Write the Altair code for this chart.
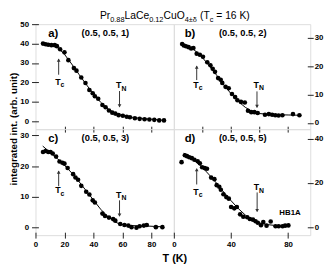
import altair as alt
import pandas as pd

FONT = "Liberation Sans"

# ---------------- data ----------------
T_a = [5.2, 7.0, 8.8, 11.0, 13.3, 14.8, 17.0, 20.0, 22.7, 26.5, 28.3, 31.6, 34.5, 37.2, 39.5, 41.0, 43.3,
       46.2, 48.4, 50.7, 53.0, 55.1, 57.4, 60.3, 63.0, 65.2, 68.6, 71.9, 75.3, 78.6, 82.0, 85.4, 88.7]
I_a = [40.0, 39.7, 39.4, 39.2, 39.2, 38.7, 37.1, 35.5, 31.5, 27.4, 26.1, 22.6, 19.7, 16.1, 14.5, 12.9, 11.6,
       8.4, 7.3, 5.6, 4.5, 4.0, 3.2, 2.9, 2.4, 2.1, 1.6, 1.3, 1.1, 1.0, 0.8, 0.5, 0.5]
Tfit_a = [12, 16, 20, 25, 30, 35, 40, 45, 50, 55, 60, 65, 70, 80, 90]
Ifit_a = [39.5, 37.5, 34.5, 29.5, 24.2, 19.0, 14.2, 9.8, 6.4, 4.3, 3.0, 2.3, 1.8, 1.1, 0.5]

T_b = [5.8, 7.0, 8.5, 10.3, 12.1, 13.7, 16.0, 18.2, 20.4, 23.4, 25.6, 27.2, 28.8, 31.0, 32.8, 33.9, 36.2,
       38.4, 40.7, 42.9, 44.5, 47.0, 49.7, 51.9, 54.2, 56.4, 58.7, 63.8, 66.5, 68.8, 71.0, 73.3, 76.0, 83.4, 87.9]
I_b = [27.8, 27.3, 27.0, 26.7, 26.2, 26.4, 24.4, 24.0, 23.3, 21.4, 20.3, 19.1, 18.0, 15.8, 15.2, 14.1, 12.7,
       12.2, 10.2, 9.1, 8.0, 7.4, 7.2, 4.3, 3.8, 3.8, 3.5, 2.9, 3.1, 2.9, 2.7, 2.6, 2.7, 3.1, 2.7]
Tfit_b = [12, 16, 20, 25, 30, 35, 40, 45, 50, 55, 60, 70, 80, 88]
Ifit_b = [26.5, 25.0, 23.0, 20.0, 16.8, 13.4, 10.3, 7.6, 5.5, 4.0, 3.3, 2.9, 2.8, 2.7]

T_c = [5.2, 7.0, 8.8, 10.4, 11.9, 14.2, 16.6, 18.6, 20.0, 22.2, 26.0, 27.6, 29.4, 31.6, 35.0, 37.2, 39.5,
       41.0, 46.2, 48.0, 50.7, 53.6, 55.1, 58.5, 61.4, 64.1, 66.3, 69.7, 71.9, 74.8, 76.8, 83.1, 87.6]
I_c = [24.6, 24.9, 24.6, 24.6, 24.1, 23.1, 21.5, 21.1, 20.8, 19.4, 17.4, 16.3, 15.6, 13.6, 11.7, 10.8, 8.9,
       8.2, 4.6, 3.8, 3.3, 2.8, 2.3, 1.2, 0.9, 0.7, 0.2, 0.0, 0.5, 0.7, 0.9, 0.2, 0.2]
Tfit_c = [5, 10, 15, 20, 25, 30, 35, 40, 45, 50, 55, 58, 65, 75, 88]
Ifit_c = [26.5, 24.5, 22.5, 20.3, 17.8, 15.0, 12.0, 9.0, 6.0, 3.6, 1.9, 1.2, 0.7, 0.6, 0.3]

T_d = [5.4, 7.7, 9.2, 10.8, 12.6, 14.4, 16.7, 18.2, 19.8, 21.6, 23.2, 26.1, 28.4, 30.0, 31.8, 32.9, 34.7,
       36.7, 38.5, 40.1, 42.3, 44.1, 46.4, 48.6, 51.4, 53.2, 55.4, 57.2, 58.8, 61.0, 62.6, 64.9, 67.8, 71.2,
       73.4, 76.1, 77.9, 80.2]
I_d = [29.4, 32.5, 32.1, 31.6, 31.2, 30.5, 29.8, 28.9, 27.1, 26.7, 26.4, 22.4, 21.7, 19.0, 18.3, 16.9, 14.9,
       13.6, 12.9, 9.1, 8.5, 9.1, 5.8, 4.7, 4.5, 3.7, 3.4, 2.7, 2.0, 0.9, 2.3, 0.7, 2.6, 0.4, 0.4, 0.4, 0.7, 0.8]
Tfit_d = [7, 10, 15, 20, 25, 30, 35, 40, 45, 50, 55, 58, 65, 72, 80]
Ifit_d = [33.5, 32.2, 29.8, 27.0, 23.5, 19.8, 15.8, 12.0, 8.5, 5.5, 3.3, 2.2, 1.2, 0.7, 0.5]

# annotation anchors (T, tail, head, label baseline) in data units
Tc_a = [16, 24.0, 32.0, 18.7]; TN_a = [58, 15.6, 7.5, 17.0]
Tc_b = [16, 15.1, 20.0, 12.3]; TN_b = [58.2, 11.1, 5.5, 12.4]
Tc_c = [16, 13.5, 18.4, 11.2]; TN_c = [58, 8.9, 3.8, 9.7]
Tc_d = [16, 19.3, 26.4, 14.7]; TN_d = [58.3, 15.7, 7.1, 16.6]

X_DOMAIN = [0, 95.5]
Y_DOM = {"a": [-4, 50], "b": [-2.2, 34.8], "c": [-2.4, 32], "d": [-3.6, 44.3]}
Y_TICKS = {"a": [0, 10, 20, 30, 40, 50], "b": [0, 10, 20, 30], "c": [0, 10, 20, 30], "d": [0, 10, 20, 30, 40]}
HKL = {"a": "(0.5, 0.5, 1)", "b": "(0.5, 0.5, 2)", "c": "(0.5, 0.5, 3)", "d": "(0.5, 0.5, 5)"}
X_TICKS = [20, 40, 60, 80]
X_LABELS = [0, 20, 40, 60, 80]

W_L, W_R = 141, 139
H_T, H_B = 107, 108

# Liberation Sans (Arial metrics) advance widths per 1000 em, for title layout
WID = {"P": 667, "r": 333, "L": 556, "a": 556, "C": 722, "e": 556, "u": 556, "O": 778, "(": 333,
       "T": 611, " ": 278, "=": 584, "1": 556, "6": 556, "K": 667, ")": 333, "0": 556, ".": 278,
       "8": 556, "2": 556, "4": 556, "±": 584, "δ": 556, "c": 500}


def one():
    return pd.DataFrame({"k": [0]})


def text_at(txt, x, y, size, weight="normal", align="left", angle=None, baseline="alphabetic"):
    kw = dict(align=align, baseline=baseline, fontSize=size, font=FONT, fontWeight=weight, color="black")
    if angle is not None:
        kw["angle"] = angle
    return alt.Chart(one()).mark_text(**kw).encode(x=alt.value(x), y=alt.value(y), text=alt.value(txt))


def panel(key, T, I, Tf, If, Tc, TN, width, height, yorient, xlabels, extra=None):
    if yorient == "left":
        yaxis = alt.Axis(orient="left", values=Y_TICKS[key], domain=False, grid=False, tickSize=7, offset=-3,
                         labelPadding=3, labelFont=FONT, labelFontSize=8, labelFontWeight="bold",
                         labelColor="black", tickColor="#222", labelOverlap=False, title=None)
    else:
        yaxis = alt.Axis(orient="right", values=Y_TICKS[key], domain=False, grid=False, tickSize=6, offset=-3,
                         labelPadding=1, labelFont=FONT, labelFontSize=8, labelFontWeight="bold",
                         labelColor="black", tickColor="#222", labelOverlap=False, title=None)
    if xlabels:
        xaxis = alt.Axis(orient="bottom", values=X_LABELS, domain=False, grid=False, tickSize=6, offset=-3,
                         labelPadding=3, labelFont=FONT, labelFontSize=8, labelFontWeight="bold",
                         labelColor="black", tickColor="#222", labelFlush=False, labelOverlap=False, title=None)
    else:
        xaxis = alt.Axis(orient="bottom", values=X_TICKS, domain=False, grid=False, tickSize=6, offset=-3,
                         labels=False, tickColor="#222", title=None)
    xs = alt.Scale(domain=X_DOMAIN, nice=False, zero=False)
    ys = alt.Scale(domain=Y_DOM[key], nice=False, zero=False)
    X = alt.X("T:Q", scale=xs, axis=xaxis, title=None)
    Y = alt.Y("I:Q", scale=ys, axis=yaxis, title=None)

    pts = alt.Chart(pd.DataFrame({"T": T, "I": I})).mark_circle(size=22, color="black", opacity=1).encode(x=X, y=Y)
    fit = alt.Chart(pd.DataFrame({"T": Tf, "I": If})).mark_line(color="black", strokeWidth=1).encode(x=X, y=Y)

    arr = pd.DataFrame({"T": [Tc[0], TN[0]], "I": [Tc[1], TN[1]], "I2": [Tc[2], TN[2]]})
    rules = alt.Chart(arr).mark_rule(color="#333", strokeWidth=1).encode(x=X, y=Y, y2="I2:Q")
    head_up = alt.Chart(pd.DataFrame({"T": [Tc[0]], "I": [Tc[2]]})).mark_point(
        shape="triangle-up", filled=True, size=14, color="#333", opacity=1, yOffset=1).encode(x=X, y=Y)
    head_dn = alt.Chart(pd.DataFrame({"T": [TN[0]], "I": [TN[2]]})).mark_point(
        shape="triangle-down", filled=True, size=14, color="#333", opacity=1, yOffset=-1).encode(x=X, y=Y)

    lab = pd.DataFrame({"T": [Tc[0], TN[0]], "I": [Tc[3], TN[3]], "s": ["c", "N"]})
    tmain = alt.Chart(lab).mark_text(align="right", baseline="alphabetic", fontSize=9, font=FONT,
                                     fontWeight="bold", color="black", dx=2).encode(x=X, y=Y, text=alt.value("T"))
    tsub = alt.Chart(lab).mark_text(align="left", baseline="alphabetic", fontSize=7, font=FONT,
                                    fontWeight="bold", color="black", dx=2, dy=2.5).encode(x=X, y=Y, text="s:N")

    lx = 13 if yorient == "left" else 11
    hx = 47 if yorient == "left" else 46
    letter = text_at(key + ")", lx, 13, 11.5, "bold")
    hkl = text_at(HKL[key], hx, 12.5, 9.5, "bold")

    layers = [fit, pts, rules, head_up, head_dn, tmain, tsub, letter, hkl]
    if extra:
        layers += extra
    return alt.layer(*layers).properties(width=width, height=height)


# ---- title with subscripts, centred over the divider ----
MAIN, SUB = 10.5, 7.5
segs = [("Pr", False), ("0.88", True), ("LaCe", False), ("0.12", True), ("CuO", False),
        ("4±δ", True), (" (T", False), ("c", True), (" = 16 K)", False)]


def seg_w(s, sub):
    return sum(WID[ch] for ch in s) * (SUB if sub else MAIN) / 1000.0


total = sum(seg_w(s, b) for s, b in segs)
xpos = W_L - total / 2 + 1
title_layers = []
for s, sub in segs:
    lead = len(s) - len(s.lstrip(" "))
    x0 = xpos + lead * WID[" "] * (SUB if sub else MAIN) / 1000.0
    title_layers.append(text_at(s.strip(" "), x0, -5 + (3 if sub else 0), SUB if sub else MAIN, "normal"))
    xpos += seg_w(s, sub)

ytitle = text_at("integrated int. (arb. unit)", -22, H_T, 10, "bold", align="center", angle=270,
                 baseline="middle")
xtitle = text_at("T (K)", W_L + 1, H_B + 27, 11, "bold", align="center")

hb = alt.Chart(pd.DataFrame({"T": [81.3], "I": [5.7]})).mark_text(
    align="center", baseline="alphabetic", fontSize=8, font=FONT, fontWeight="bold", color="black"
).encode(x=alt.X("T:Q", scale=alt.Scale(domain=X_DOMAIN, nice=False, zero=False), title=None),
         y=alt.Y("I:Q", scale=alt.Scale(domain=Y_DOM["d"], nice=False, zero=False), title=None),
         text=alt.value("HB1A"))

pa = panel("a", T_a, I_a, Tfit_a, Ifit_a, Tc_a, TN_a, W_L, H_T, "left", False, title_layers + [ytitle])
pb = panel("b", T_b, I_b, Tfit_b, Ifit_b, Tc_b, TN_b, W_R, H_T, "right", False)
pc = panel("c", T_c, I_c, Tfit_c, Ifit_c, Tc_c, TN_c, W_L, H_B, "left", True, [xtitle])
pd_ = panel("d", T_d, I_d, Tfit_d, Ifit_d, Tc_d, TN_d, W_R, H_B, "right", True, [hb])

chart = alt.concat(pa, pb, pc, pd_, columns=2, spacing=0, bounds="flush").properties(
    padding=0
).configure_view(stroke="#222", strokeWidth=1).configure(background="white")

chart.save("out.html", embed_options={"renderer": "svg", "actions": False})
